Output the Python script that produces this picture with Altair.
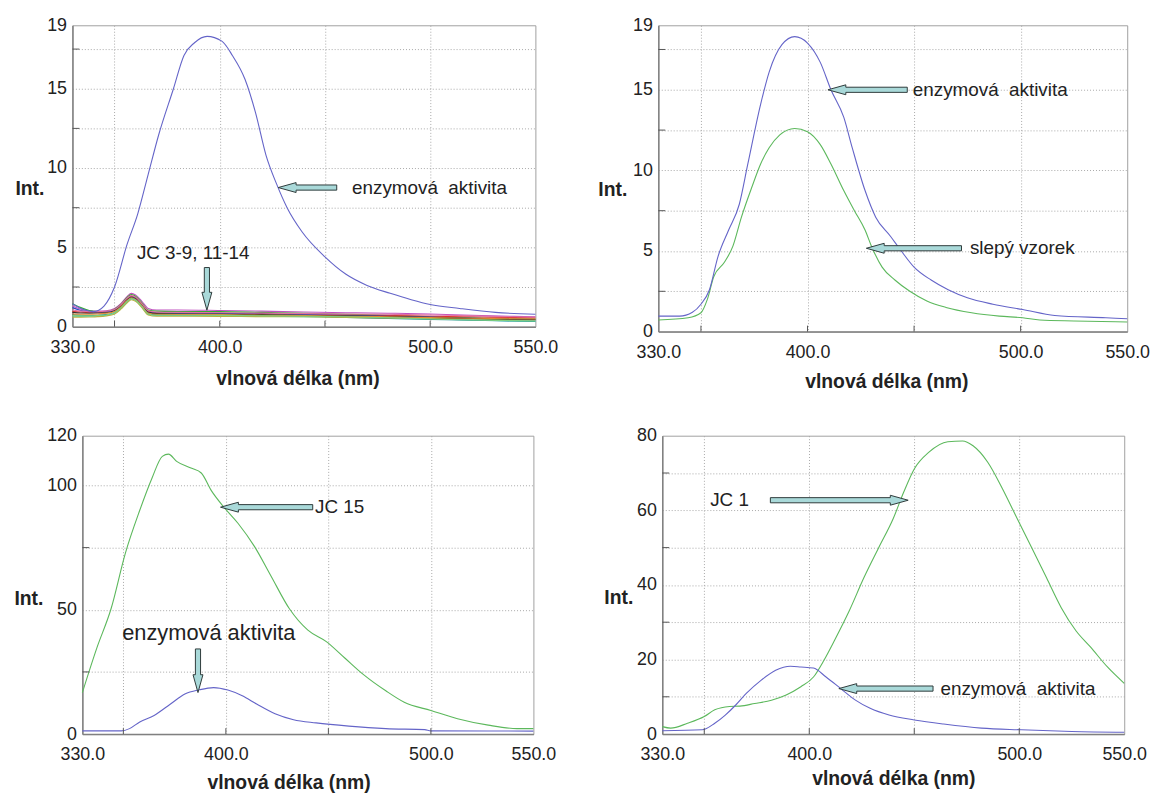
import altair as alt
import pandas as pd

FONT = "Liberation Sans"
TXT = "#222222"

# ---------------- data ----------------
X_DOMAIN = [330, 550]
X_LABELED = [330, 400, 500, 550]
X_GRID = [350, 400, 450, 500]

# panel 1
p1_enz_wl = [330, 335, 340, 345, 350, 356, 361, 366, 371, 378, 383, 388, 394, 401, 406, 412, 417, 422, 427, 432,
             439, 450, 460, 470, 481, 491, 500, 514, 531, 550]
p1_enz_int = [1.45, 1.10, 0.95, 1.30, 2.5, 5.2, 7.1, 9.6, 12.1, 15.0, 17.1, 17.9, 18.3, 18.0, 17.1, 15.6, 13.5, 10.8,
              9.0, 7.5, 6.0, 4.4, 3.3, 2.6, 2.1, 1.7, 1.4, 1.15, 0.9, 0.78]

noise_wl = [330, 334, 338, 342, 346, 350, 353, 356, 358, 360, 363, 366, 370, 380, 400, 420, 440, 460, 480, 500, 520,
            540, 550]
jc3 = [1.30, 1.10, 1.00, 0.98, 1.00, 1.15, 1.45, 1.90, 2.10, 2.00, 1.60, 1.15, 1.05, 1.05, 1.02, 0.98, 0.92, 0.88,
       0.85, 0.80, 0.72, 0.65, 0.62]
jc4 = [1.45, 1.20, 1.02, 0.95, 0.95, 1.10, 1.40, 1.85, 2.02, 1.92, 1.50, 1.05, 0.98, 0.96, 0.95, 0.90, 0.85, 0.78,
       0.72, 0.62, 0.55, 0.50, 0.48]
jc5 = [0.95, 0.92, 0.90, 0.90, 0.92, 1.05, 1.35, 1.75, 1.92, 1.82, 1.42, 0.98, 0.88, 0.86, 0.85, 0.82, 0.78, 0.74,
       0.70, 0.66, 0.62, 0.57, 0.55]
jc6 = [1.20, 1.02, 0.95, 0.93, 0.94, 1.02, 1.30, 1.70, 1.86, 1.78, 1.38, 0.93, 0.86, 0.85, 0.84, 0.80, 0.76, 0.71,
       0.66, 0.60, 0.52, 0.46, 0.42]
jc7 = [0.66, 0.65, 0.66, 0.68, 0.72, 0.85, 1.15, 1.55, 1.75, 1.66, 1.25, 0.78, 0.70, 0.70, 0.69, 0.66, 0.63, 0.60,
       0.55, 0.50, 0.42, 0.36, 0.32]
jc8 = [0.76, 0.72, 0.70, 0.72, 0.76, 0.90, 1.20, 1.62, 1.80, 1.70, 1.30, 0.82, 0.75, 0.74, 0.73, 0.70, 0.68, 0.58,
       0.52, 0.46, 0.40, 0.36, 0.35]
jc9 = [0.60, 0.60, 0.61, 0.63, 0.68, 0.80, 1.10, 1.50, 1.70, 1.60, 1.20, 0.74, 0.66, 0.66, 0.65, 0.63, 0.62, 0.58,
       0.55, 0.52, 0.48, 0.44, 0.42]
jc11 = [0.90, 0.86, 0.85, 0.86, 0.88, 1.00, 1.28, 1.68, 1.84, 1.75, 1.35, 0.90, 0.82, 0.80, 0.79, 0.76, 0.72, 0.68,
        0.64, 0.58, 0.52, 0.47, 0.45]
jc12 = [0.80, 0.78, 0.78, 0.80, 0.84, 0.96, 1.25, 1.65, 1.82, 1.72, 1.32, 0.86, 0.78, 0.77, 0.76, 0.72, 0.70, 0.66,
        0.62, 0.57, 0.53, 0.50, 0.48]
jc13 = [1.05, 0.98, 0.95, 0.95, 0.97, 1.08, 1.38, 1.80, 1.96, 1.86, 1.45, 1.00, 0.92, 0.90, 0.88, 0.86, 0.82, 0.80,
        0.78, 0.74, 0.68, 0.62, 0.60]
jc14 = [0.70, 0.68, 0.68, 0.70, 0.74, 0.88, 1.18, 1.60, 1.78, 1.68, 1.28, 0.80, 0.72, 0.72, 0.71, 0.68, 0.66, 0.62,
        0.56, 0.48, 0.42, 0.38, 0.36]

# panel 2
p2_enz_wl = [330, 340, 346, 350, 354, 358, 363, 368, 372, 378, 382, 388, 394, 400, 406, 411, 417, 421, 427, 432, 439,
             444, 450, 458, 466, 475, 487, 501, 516, 540, 550]
p2_enz_int = [0.96, 0.96, 1.2, 1.7, 2.6, 4.65, 6.3, 7.9, 10.4, 14.1, 16.1, 17.8, 18.3, 17.9, 16.7, 15.0, 13.3, 11.4,
              8.75, 7.1, 5.9, 5.0, 4.0, 3.2, 2.6, 2.1, 1.7, 1.37, 1.0, 0.86, 0.8]
p2_blank_wl = [330, 344, 350, 353, 356, 361, 365, 369, 374, 378, 382, 387, 394, 400, 406, 411, 417, 422, 427, 430,
               435, 441, 448, 456, 465, 477, 490, 501, 509, 525, 550]
p2_blank_int = [0.72, 0.86, 1.17, 2.0, 3.4, 4.3, 5.3, 7.1, 9.0, 10.4, 11.4, 12.2, 12.6, 12.4, 11.6, 10.4, 8.75, 7.5,
                6.3, 5.3, 4.0, 3.2, 2.5, 1.9, 1.5, 1.17, 0.96, 0.86, 0.72, 0.66, 0.6]

# panel 3
p3_jc15_wl = [330, 337, 344, 351, 358, 364, 369, 372, 376, 383, 388, 393, 399, 406, 414, 422, 431, 440, 449, 458, 467,
              478, 487, 500, 513, 528, 542, 550]
p3_jc15_int = [16.7, 34.5, 50.4, 72.8, 90, 103, 111.7, 112.6, 109.7, 107, 105, 97.8, 91.3, 84.7, 75.4, 63.6, 50.4,
               41.8, 37.2, 30.6, 24, 17.4, 12.8, 9.5, 6.2, 3.6, 2.2, 2.2]
p3_enz_wl = [330, 349, 353, 358, 365, 373, 380, 387, 394, 401, 408, 415, 424, 433, 444, 460, 478, 497, 500, 550]
p3_enz_int = [1.3, 1.3, 2.2, 4.9, 7.5, 12.1, 16.1, 17.8, 18.7, 17.7, 15.4, 12.1, 8.2, 5.8, 4.5, 3.2, 2.2, 1.8, 1.3,
              1.2]

# panel 4
p4_jc1_wl = [330, 334, 342, 350, 355, 362, 367, 374, 382, 389, 396, 402, 407, 412, 419, 426, 433, 440, 445, 450, 457,
             466, 473, 478, 485, 492, 499, 506, 513, 520, 527, 534, 542, 550]
p4_jc1_int = [2.0, 1.6, 2.9, 4.7, 6.5, 7.4, 7.5, 8.2, 9.1, 10.5, 12.7, 15.3, 19.8, 25.1, 33, 41.9, 49.9, 57.8, 64.9,
              71.1, 75.6, 78.4, 78.6, 77.3, 72.9, 65.8, 57.8, 49.9, 41.9, 33.9, 27.7, 23.3, 18, 13.6]
p4_enz_wl = [330, 349, 355, 360, 365, 370, 377, 384, 391, 396, 402, 408, 415, 422, 429, 438, 450, 464, 482, 501, 525,
             550]
p4_enz_int = [0.9, 1.15, 2.9, 5.1, 7.8, 10.9, 14.4, 17.1, 18.2, 18.0, 17.7, 15.3, 12.2, 9.1, 6.9, 5.1, 3.8, 2.7,
              1.6, 1.15, 0.7, 0.5]

# series colours
SERIES = ["JC 3", "JC 4", "JC 5", "JC 6", "JC 7", "JC 8", "JC 9", "JC 11", "JC 12", "JC 13", "JC 14",
          "enzymová aktivita", "slepý vzorek", "JC 15", "JC 1"]
COLORS = ["#c050c0", "#30b030", "#e03030", "#3048c0", "#40d0d0", "#209090", "#b8b040", "#303030", "#e08a30",
          "#e070a0", "#80d080", "#6464c8", "#5cb85c", "#5cb85c", "#5cb85c"]
color_scale = alt.Scale(domain=SERIES, range=COLORS)

WIDE = "enzymová\u00a0 aktivita"   # the wide gap between the words seen in the original


def series_df(items):
    rows = []
    for name, wl, it in items:
        for w, v in zip(wl, it):
            rows.append({"wl": w, "int": v, "series": name})
    return pd.DataFrame(rows)


def arrow_path(direction, length, head=18, hh=5.0, sh=2.6):
    pts = [(0, 0), (head, -hh), (head, -sh), (length, -sh), (length, sh), (head, sh), (head, hh)]
    out = []
    for u, v in pts:
        if direction == "left":
            x, y = u, v
        elif direction == "right":
            x, y = -u, v
        elif direction == "down":
            x, y = v, -u
        else:
            x, y = v, u
        out.append(f"{x:.2f},{y:.2f}")
    return "M" + " L".join(out) + " Z"


PANELS = [
    dict(w=467, h=304, ymax=19, ylab=[0, 5, 10, 15, 19], ygrid=[2.5, 5, 7.5, 10, 12.5, 15, 17.5],
         yminor=[2.5, 7.5, 12.5, 17.5], intx=-58, inty=165, xtx=227, xty=52,
         lines=[("JC 3", noise_wl, jc3), ("JC 4", noise_wl, jc4), ("JC 5", noise_wl, jc5), ("JC 6", noise_wl, jc6),
                ("JC 7", noise_wl, jc7), ("JC 8", noise_wl, jc8), ("JC 9", noise_wl, jc9), ("JC 11", noise_wl, jc11),
                ("JC 12", noise_wl, jc12), ("JC 13", noise_wl, jc13), ("JC 14", noise_wl, jc14),
                ("enzymová aktivita", p1_enz_wl, p1_enz_int)],
         arrows=[("left", 427.8, 8.77, 59), ("down", 393.9, 1.04, 43)],
         texts=[(WIDE, 462.9, 8.77, "left", 19), ("JC 3-9, 11-14", 387.4, 4.63, "center", 19)]),
    dict(w=473, h=309, ymax=19, ylab=[0, 5, 10, 15, 19], ygrid=[2.5, 5, 7.5, 10, 12.5, 15, 17.5],
         yminor=[2.5, 7.5, 12.5, 17.5], intx=-61, inty=166, xtx=230, xty=50,
         lines=[("slepý vzorek", p2_blank_wl, p2_blank_int), ("enzymová aktivita", p2_enz_wl, p2_enz_int)],
         arrows=[("left", 409.6, 15.0, 80), ("left", 427.6, 5.17, 96)],
         texts=[(WIDE, 449.4, 15.0, "left", 19), ("slepý vzorek", 476.2, 5.17, "left", 19)]),
    dict(w=455, h=301, ymax=120, ylab=[0, 50, 100, 120], ygrid=[25, 50, 75, 100],
         yminor=[25, 75], intx=-69, inty=164, xtx=208, xty=49,
         lines=[("enzymová aktivita", p3_enz_wl, p3_enz_int), ("JC 15", p3_jc15_wl, p3_jc15_int)],
         arrows=[("left", 397.4, 91.25, 93), ("down", 386.4, 16.7, 44)],
         texts=[("JC 15", 443.5, 91.25, "left", 19), ("enzymová aktivita", 391.7, 40.5, "center", 22)]),
    dict(w=466, h=301, ymax=80, ylab=[0, 20, 40, 60, 80], ygrid=[10, 20, 30, 40, 50, 60, 70],
         yminor=[10, 30, 50, 70], intx=-59, inty=163, xtx=233, xty=45,
         lines=[("JC 1", p4_jc1_wl, p4_jc1_int), ("enzymová aktivita", p4_enz_wl, p4_enz_int)],
         arrows=[("right", 447.1, 62.7, 139), ("left", 414.1, 12.2, 95)],
         texts=[("JC 1", 352.8, 62.7, "left", 19), (WIDE, 462.5, 12.2, "left", 19)]),
]


def make_panel(cfg):
    w, h, ymax = cfg["w"], cfg["h"], cfg["ymax"]
    xs = alt.Scale(domain=X_DOMAIN, nice=False, zero=False)
    ys = alt.Scale(domain=[0, ymax], nice=False)
    x_vals = sorted(set(X_LABELED + X_GRID))
    x_lab_test = " || ".join(f"datum.value == {v}" for v in X_LABELED)
    x_axis = alt.Axis(
        values=x_vals,
        labelExpr=f"({x_lab_test}) ? format(datum.value, '.1f') : ''",
        gridOpacity={"condition": {"test": f"datum.value == {X_DOMAIN[0]} || datum.value == {X_DOMAIN[1]}",
                                   "value": 0}, "value": 1},
        title="vlnová délka (nm)", titleX=cfg["xtx"], titleY=cfg["xty"], titleAlign="center",
        titleBaseline="middle", labelPadding=21, labelBaseline="middle",
    )
    y_vals = sorted(set(cfg["ylab"] + cfg["ygrid"]))
    y_lab_test = " || ".join(f"datum.value == {v}" for v in cfg["ylab"])
    y_axis = alt.Axis(
        values=y_vals,
        labelExpr=f"({y_lab_test}) ? datum.label : ''",
        gridOpacity={"condition": {"test": f"datum.value == 0 || datum.value == {ymax}", "value": 0}, "value": 1},
        title="Int.", titleAngle=0, titleAlign="left", titleBaseline="middle",
        titleX=cfg["intx"], titleY=cfg["inty"], labelPadding=6, labelAlign="right", labelBaseline="middle",
    )
    X = alt.X("wl:Q", scale=xs, axis=x_axis)
    Y = alt.Y("int:Q", scale=ys, axis=y_axis)

    layers = []
    for name, wl, it in cfg["lines"]:
        df = series_df([(name, wl, it)])
        layers.append(
            alt.Chart(df).mark_line(strokeWidth=1.1, interpolate="monotone").encode(
                x=X, y=Y, color=alt.Color("series:N", scale=color_scale, legend=None)
            )
        )
    # inner ticks
    layers.append(
        alt.Chart(pd.DataFrame({"wl": X_GRID})).mark_rule(color="#555555", strokeWidth=1).encode(
            x=X, y=alt.value(h), y2=alt.value(h - 6)
        )
    )
    layers.append(
        alt.Chart(pd.DataFrame({"int": cfg["yminor"]})).mark_rule(color="#555555", strokeWidth=1).encode(
            y=Y, x=alt.value(0), x2=alt.value(7)
        )
    )
    # arrows
    arr = pd.DataFrame([{"wl": a[1], "int": a[2], "path": arrow_path(a[0], a[3])} for a in cfg["arrows"]])
    layers.append(
        alt.Chart(arr).mark_point(filled=True, size=4, fill="#a9d9d9", stroke="#2f3b3b", strokeWidth=1,
                                  opacity=1, fillOpacity=1).encode(
            x=X, y=Y, shape=alt.Shape("path:N", scale=None)
        )
    )
    # texts
    for label, wl, it, align, fs in cfg["texts"]:
        tdf = pd.DataFrame({"wl": [wl], "int": [it], "label": [label]})
        layers.append(
            alt.Chart(tdf).mark_text(font=FONT, fontSize=fs, color=TXT, align=align, baseline="middle").encode(
                x=X, y=Y, text="label:N"
            )
        )
    return alt.layer(*layers).properties(width=w, height=h)


p1, p2, p3, p4 = [make_panel(c) for c in PANELS]

# an empty 1px cell that lets the first panel sit further left than the third one
blank = (
    alt.Chart(pd.DataFrame({"wl": [0]}))
    .mark_rule(opacity=0, strokeWidth=0)
    .encode(x=alt.value(0), x2=alt.value(0), y=alt.value(0), y2=alt.value(0))
    .properties(width=1, height=1, view=alt.ViewBackground(strokeOpacity=0))
)

left_top = alt.concat(blank, p1, columns=2, spacing=-70).properties(align="none")
row1 = alt.hconcat(left_top, p2, spacing=38)
row2 = alt.hconcat(p3, p4, spacing=46)

chart = (
    alt.vconcat(row1, row2, spacing=35)
    .properties(padding={"left": 5, "top": 4, "right": 0, "bottom": 0}, background="white")
    .configure_view(stroke="#a0a0a0", strokeWidth=1)
    .configure_axis(
        labelFont=FONT, labelFontSize=18, labelColor=TXT,
        titleFont=FONT, titleFontSize=19.5, titleFontWeight="bold", titleColor=TXT,
        domainColor="#808080", domainWidth=1.5,
        gridColor="#a8a8a8", gridDash=[1, 2], gridWidth=1,
        ticks=False, tickSize=0, labelFlush=False, labelOverlap=False,
    )
)

chart.save("out.html", embed_options={"renderer": "svg", "actions": False})
